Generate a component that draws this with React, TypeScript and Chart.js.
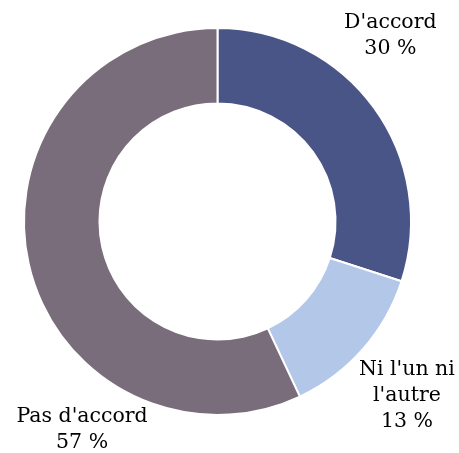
import React, { useEffect, useRef } from "react";
import { Chart, registerables } from "chart.js";

Chart.register(...registerables);

const categories = ["D'accord", "Ni l'un ni l'autre", "Pas d'accord"];
const labelLines = [["D'accord"], ["Ni l'un ni", "l'autre"], ["Pas d'accord"]];
const values = [30, 13, 57];
const colors = ["#4a5587", "#b3c7e9", "#7a6d7b"];

// label placement (angle from top clockwise in degrees, distance as ratio of outer radius)
const labelAngles = [43, 132.6, 213];
const labelDist = [1.31, 1.33, 1.285];

const labelPlugin = {
  id: "outLabels",
  afterDraw(chart: any) {
    const ctx = chart.ctx;
    const meta = chart.getDatasetMeta(0);
    const arc0 = meta.data[0];
    if (!arc0) return;
    const cx = arc0.x;
    const cy = arc0.y;
    const r = arc0.outerRadius;
    ctx.save();
    ctx.fillStyle = "#000000";
    ctx.font = "20.5px 'DejaVu Serif'";
    ctx.textAlign = "center";
    ctx.textBaseline = "middle";
    const lh = 26;
    values.forEach((v, i) => {
      const lines = [...labelLines[i], `${v} %`];
      const a = (labelAngles[i] * Math.PI) / 180;
      const x = cx + Math.sin(a) * r * labelDist[i];
      const y = cy - Math.cos(a) * r * labelDist[i];
      const top = y - ((lines.length - 1) * lh) / 2;
      lines.forEach((t, j) => ctx.fillText(t, x, top + j * lh));
    });
    ctx.restore();
  },
};

export default function App() {
  const ref = useRef<HTMLCanvasElement>(null);
  useEffect(() => {
    document.body.style.margin = "0";
    const chart = new Chart(ref.current!, {
      type: "doughnut",
      data: {
        labels: categories,
        datasets: [
          {
            data: values,
            backgroundColor: colors,
            borderColor: "#ffffff",
            borderWidth: 2,
          },
        ],
      },
      options: {
        animation: false,
        responsive: false,
        cutout: "61%",
        layout: { padding: { left: 23, right: 47, top: 27, bottom: 37 } },
        plugins: { legend: { display: false }, tooltip: { enabled: false } },
      },
      plugins: [labelPlugin],
    });
    return () => chart.destroy();
  }, []);
  return (
    <div style={{ width: 459, height: 453 }}>
      <canvas ref={ref} width={459} height={453} />
    </div>
  );
}
